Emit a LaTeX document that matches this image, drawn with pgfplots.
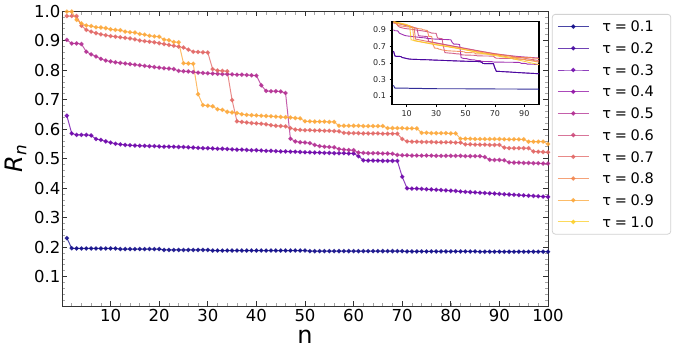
\documentclass[border=0pt]{standalone}
\usepackage{fontspec}
\setmainfont{DejaVu Sans}
\usepackage{pgfplots}
\usepackage{pgfplotstable}
\pgfplotsset{compat=1.18}

% plasma colours, one per tau
\definecolor{c1}{HTML}{0D0887}
\definecolor{c2}{HTML}{41049D}
\definecolor{c3}{HTML}{6A00A8}
\definecolor{c4}{HTML}{8F0DA4}
\definecolor{c5}{HTML}{B12A90}
\definecolor{c6}{HTML}{CC4778}
\definecolor{c7}{HTML}{E16462}
\definecolor{c8}{HTML}{F2844B}
\definecolor{c9}{HTML}{FCA636}
\definecolor{c10}{HTML}{FCCE25}

\newcommand\tl[1]{τ\hspace{0.26em}=\hspace{0.26em}#1\rule{12pt}{0pt}}

\pgfplotstableread{
n t1 t3 t5 t7 t9
1 .230 .645 .902 .983 .998
2 .196 .585 .890 .983 .998
3 .195 .580 .890 .983 .970
4 .195 .580 .888 .950 .958
5 .195 .580 .862 .936 .951
6 .195 .578 .853 .930 .949
7 .195 .566 .846 .925 .945
8 .195 .563 .838 .921 .944
9 .195 .558 .832 .918 .942
10 .195 .554 .829 .915 .938
11 .195 .550 .826 .913 .936
12 .193 .548 .824 .911 .935
13 .193 .546 .822 .909 .930
14 .193 .545 .820 .907 .928
15 .193 .544 .818 .904 .927
16 .193 .543 .816 .900 .922
17 .193 .543 .814 .898 .920
18 .193 .542 .812 .896 .916
19 .193 .542 .810 .894 .914
20 .193 .541 .808 .891 .913
21 .190 .540 .806 .888 .903
22 .190 .540 .805 .885 .901
23 .190 .540 .803 .882 .895
24 .190 .539 .797 .879 .894
25 .190 .539 .796 .876 .823
26 .190 .538 .795 .869 .822
27 .190 .537 .793 .862 .821
28 .190 .536 .791 .861 .718
29 .190 .535 .790 .860 .681
30 .190 .535 .789 .859 .679
31 .188 .534 .788 .803 .677
32 .188 .533 .787 .798 .667
33 .188 .533 .786 .797 .665
34 .188 .532 .786 .796 .658
35 .188 .531 .785 .698 .656
36 .188 .530 .784 .626 .654
37 .188 .530 .784 .624 .650
38 .188 .529 .783 .622 .648
39 .188 .528 .782 .620 .647
40 .188 .528 .781 .619 .646
41 .188 .527 .748 .618 .645
42 .188 .526 .729 .616 .644
43 .188 .526 .728 .613 .643
44 .188 .525 .728 .611 .642
45 .188 .524 .727 .610 .641
46 .188 .524 .722 .609 .640
47 .188 .523 .567 .603 .639
48 .188 .523 .558 .598 .637
49 .188 .522 .555 .597 .636
50 .188 .521 .554 .596 .626
51 .186 .521 .552 .596 .626
52 .186 .520 .546 .595 .625
53 .186 .520 .542 .595 .625
54 .186 .519 .540 .594 .625
55 .186 .519 .539 .594 .624
56 .186 .518 .538 .593 .624
57 .186 .518 .532 .592 .611
58 .186 .518 .530 .587 .611
59 .186 .517 .529 .586 .611
60 .186 .517 .528 .586 .611
61 .186 .508 .520 .586 .611
62 .186 .494 .519 .585 .610
63 .186 .493 .518 .585 .610
64 .186 .493 .518 .585 .610
65 .186 .493 .518 .585 .610
66 .186 .492 .517 .584 .610
67 .186 .492 .517 .584 .603
68 .186 .492 .516 .584 .603
69 .186 .492 .512 .584 .603
70 .186 .438 .511 .566 .603
71 .185 .399 .511 .558 .602
72 .185 .398 .510 .557 .602
73 .185 .398 .510 .557 .602
74 .185 .397 .510 .556 .587
75 .185 .396 .510 .556 .587
76 .185 .395 .510 .556 .586
77 .185 .394 .509 .555 .586
78 .185 .393 .509 .555 .586
79 .185 .392 .509 .555 .586
80 .185 .391 .509 .555 .585
81 .185 .390 .509 .554 .585
82 .185 .388 .509 .554 .567
83 .185 .387 .508 .548 .567
84 .185 .386 .508 .548 .567
85 .185 .385 .508 .547 .566
86 .184 .384 .508 .547 .566
87 .184 .383 .505 .547 .566
88 .184 .382 .496 .546 .566
89 .184 .381 .495 .546 .566
90 .184 .380 .495 .546 .566
91 .184 .379 .494 .537 .565
92 .184 .378 .487 .535 .565
93 .184 .377 .486 .535 .565
94 .184 .376 .486 .535 .565
95 .184 .375 .485 .535 .565
96 .184 .374 .485 .535 .557
97 .184 .373 .484 .524 .557
98 .184 .372 .484 .523 .557
99 .184 .371 .483 .522 .557
100 .184 .370 .483 .521 .549
}\rn

\pgfplotsset{
  ser/.style={color=#1, line width=1.0pt, mark=*, mark size=1.7pt, opacity=0.75},
  ins/.style={color=#1, line width=0.9pt, no marks, opacity=0.85},
}

\begin{document}
\begin{tikzpicture}
\path[use as bounding box] (-62pt,-51pt) rectangle (613pt,306pt);
\begin{axis}[
  width=486pt, height=295pt, scale only axis,
  xmin=0, xmax=100, ymin=0, ymax=1,
  xtick={10,20,...,100},
  ytick={0.1,0.2,0.3,0.4,0.5,0.6,0.7,0.8,0.9,1.0},
  minor xtick={0,2,...,100},
  minor ytick={0.02,0.04,...,0.98},
  tick align=inside,
  major tick length=5pt, minor tick length=3.5pt,
  major tick style={black!80, line width=0.7pt},
  minor tick style={gray!70, line width=0.6pt},
  axis line style={black!80, line width=0.7pt},
  /pgf/number format/assume math mode=true,
  yticklabel={\pgfmathprintnumber[fixed,fixed zerofill,precision=1]{\tick}},
  ticklabel style={font=\fontsize{16.5}{18}\selectfont},
  yticklabel style={inner xsep=1.5pt},
  xlabel={n},
  ylabel={\textit{R}\textsubscript{\textit{n}}},
  label style={font=\fontsize{24}{28}\selectfont},
  xlabel style={at={(axis description cs:0.5,-0.105)}, anchor=center},
  ylabel style={at={(axis description cs:-0.095,0.5)}, anchor=center},
  clip=false,
  legend style={at={(1.008,0.99)}, anchor=north west,
    draw=gray!35, line width=0.8pt, rounded corners=3pt, fill=white,
    font=\fontsize{14.5}{16}\selectfont, legend cell align=left,
    nodes={inner sep=0pt, text height=10.5pt, text depth=0pt},
    inner xsep=5pt, inner ysep=7pt, row sep=11.2pt,
    /tikz/every odd column/.append style={column sep=13pt}},
  legend image code/.code={\draw[mark repeat=2,mark phase=2]
    plot coordinates {(0pt,0pt) (15.5pt,0pt) (31pt,0pt)};},
]
\addlegendimage{ser=c1}
\addlegendimage{ser=c2}
\addlegendimage{ser=c3}
\addlegendimage{ser=c4}
\addlegendimage{ser=c5}
\addlegendimage{ser=c6}
\addlegendimage{ser=c7}
\addlegendimage{ser=c8}
\addlegendimage{ser=c9}
\addlegendimage{ser=c10}
\addplot[ser=c1, forget plot] table[x=n, y=t1] {\rn};
\addplot[ser=c3, forget plot] table[x=n, y=t3] {\rn};
\addplot[ser=c5, forget plot] table[x=n, y=t5] {\rn};
\addplot[ser=c7, forget plot] table[x=n, y=t7] {\rn};
\addplot[ser=c9, forget plot] table[x=n, y=t9] {\rn};
\legend{\tl{0.1}, \tl{0.2}, \tl{0.3}, \tl{0.4}, \tl{0.5},
        \tl{0.6}, \tl{0.7}, \tl{0.8}, \tl{0.9}, \tl{1.0}}
\end{axis}

% inset
\begin{axis}[
  at={(330pt,201.7pt)}, anchor=south west,
  width=147pt, height=82.6pt, scale only axis,
  xmin=0, xmax=100, ymin=0, ymax=1,
  xtick={10,30,50,70,90}, ytick={0.1,0.3,0.5,0.7,0.9},
  tick pos=left, tick align=outside, major tick length=2.5pt,
  tick style={black, line width=0.8pt},
  axis line style={black, line width=1.4pt},
  axis background/.style={fill=white},
  /pgf/number format/assume math mode=true,
  yticklabel={\pgfmathprintnumber[fixed,fixed zerofill,precision=1]{\tick}},
  ticklabel style={font=\fontsize{8}{9}\selectfont, text=black!85},
]
\addplot[ins=c1] table[x=n, y=t1] {\rn};
\addplot[ins=c3] table[x=n, y=t3] {\rn};
\addplot[ins=c2] table[x=n, y=t3] {\rn};
\addplot[ins=c4] table[x=n, y=t5] {\rn};
\addplot[ins=c5] coordinates {(1,0.99)(8,0.96)(17,0.92)(18,0.83)(24,0.82)(25,0.76)(40,0.71)(55,0.66)(70,0.61)(85,0.58)(100,0.56)};
\addplot[ins=c6] table[x=n, y=t7] {\rn};
\addplot[ins=c7] coordinates {(1,1.0)(10,0.96)(15,0.93)(16,0.79)(30,0.74)(45,0.69)(60,0.64)(75,0.60)(100,0.53)};
\addplot[ins=c8] table[x=n, y=t9] {\rn};
\addplot[ins=c9] coordinates {(1,0.99)(12,0.95)(14,0.93)(15,0.77)(30,0.72)(50,0.66)(70,0.60)(100,0.51)};
\addplot[ins=c10] coordinates {(1,1.0)(9,0.97)(12,0.95)(13,0.78)(28,0.73)(45,0.68)(60,0.62)(80,0.56)(100,0.48)};
\end{axis}
\end{tikzpicture}
\end{document}
